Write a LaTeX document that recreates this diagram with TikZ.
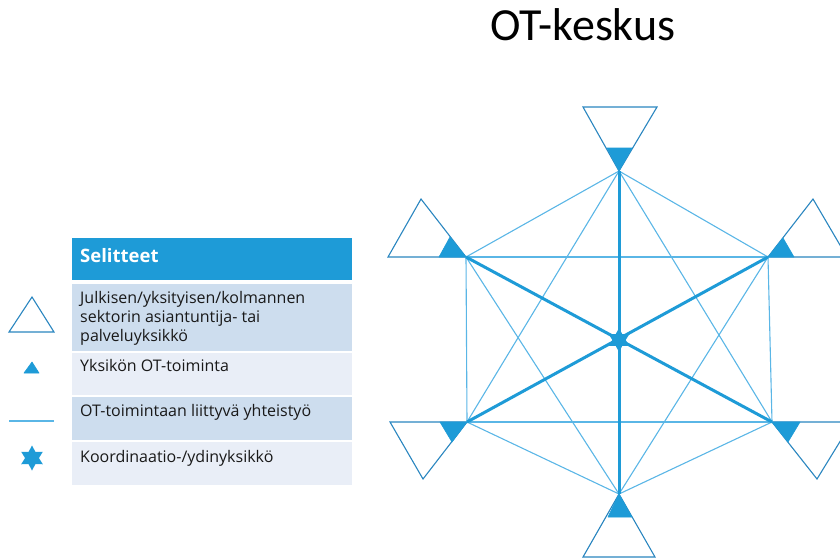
\documentclass[tikz,border=0pt]{standalone}
\usepackage{fontspec}
\setmainfont{Open Sans}
\newfontfamily\titlefont{Carlito}
\usetikzlibrary{shapes.geometric}
\definecolor{mainblue}{HTML}{1E9BD7}
\definecolor{thinblue}{HTML}{5AB6E6}
\definecolor{edgeblue}{HTML}{2A86C0}
\definecolor{rowA}{HTML}{CDDDEE}
\definecolor{rowB}{HTML}{E9EEF7}
\begin{document}
\begin{tikzpicture}[x=1pt,y=-1pt,
  thinline/.style={draw=thinblue,line width=1.1pt},
  thickline/.style={draw=mainblue,line width=3pt},
  outertri/.style={draw=edgeblue,line width=1.1pt,fill=white,line join=miter},
  innertri/.style={fill=mainblue,draw=mainblue,line width=0.6pt,line join=round},
  hexstar/.style={star,star points=6,star point ratio=1.8,fill=mainblue,inner sep=0pt,draw=none},
  legtext/.style={anchor=north west,inner sep=0pt,align=left,font=\fontsize{16}{19}\selectfont,text=black!90},
  rowa/.style={fill=rowA},
  rowb/.style={fill=rowB}]
\useasboundingbox (0,0) rectangle (840,558);

% title
\node[anchor=base,inner sep=0pt,font=\titlefont\fontsize{46}{50}\selectfont] (title) at (583,40) {OT-keskus};

% hub points
\coordinate (T) at (619,171);
\coordinate (UL) at (466,257);
\coordinate (UR) at (768,257);
\coordinate (LL) at (467,422);
\coordinate (LR) at (772,422);
\coordinate (B) at (619,494);
\coordinate (C) at (619,340);

% outer triangles
\draw[outertri] (583,107) -- (657,107) -- (T) -- cycle;
\draw[outertri] (388,257) -- (421,199) -- (UL) -- cycle;
\draw[outertri] (UR) -- (813,199) -- (847,257) -- cycle;
\draw[outertri] (390,422) -- (LL) -- (423,479) -- cycle;
\draw[outertri] (LR) -- (852,422) -- (817,479) -- cycle;
\draw[outertri] (583,557) -- (655,557) -- (B) -- cycle;

% thin cooperation lines
\draw[thinline] (T) -- (UL);
\draw[thinline] (T) -- (UR);
\draw[thinline] (T) -- (LL);
\draw[thinline] (T) -- (LR);
\draw[thinline] (B) -- (UL);
\draw[thinline] (B) -- (UR);
\draw[thinline] (B) -- (LL);
\draw[thinline] (B) -- (LR);
\draw[thinline] (UL) -- (UR);
\draw[thinline] (LL) -- (LR);
\draw[thinline] (UL) -- (LL);
\draw[thinline] (UR) -- (LR);

% thick lines
\draw[thickline] (T) -- (B);
\draw[thickline] (UL) -- (LR);
\draw[thickline] (UR) -- (LL);

% inner filled triangles
\fill[innertri] (607,148) -- (632,148) -- (T) -- cycle;
\fill[innertri] (439,257) -- (450,237) -- (UL) -- cycle;
\fill[innertri] (UR) -- (783,238) -- (794,257) -- cycle;
\fill[innertri] (440,422) -- (LL) -- (452,442) -- cycle;
\fill[innertri] (LR) -- (800,422) -- (788,442) -- cycle;
\fill[innertri] (608,517) -- (632,517) -- (B) -- cycle;

% core star
\node[hexstar,minimum size=24pt] (core) at (C) {};

% legend
\fill[mainblue] (72,238) rectangle (352,280);
\node[anchor=base west,inner sep=0pt,text=white,font=\bfseries\fontsize{18.5}{22}\selectfont] (leghead) at (80,262) {Selitteet};
\fill[rowa] (72,284) rectangle (352,351);
\fill[rowb] (72,353) rectangle (352,395);
\fill[rowa] (72,397) rectangle (352,440);
\fill[rowb] (72,442) rectangle (352,485);

\node[legtext] (t1) at (80,291) {Julkisen/yksityisen/kolmannen\\sektorin asiantuntija- tai\\palveluyksikkö};
\node[legtext] (t2) at (80,359) {Yksikön OT-toiminta};
\node[legtext] (t3) at (80,404) {OT-toimintaan liittyvä yhteistyö};
\node[legtext] (t4) at (80,450) {Koordinaatio-/ydinyksikkö};

% legend icons
\draw[outertri] (9,332) -- (54,332) -- (32,297) -- cycle;
\fill[innertri] (24,373) -- (39,373) -- (32,362) -- cycle;
\coordinate (la) at (9,421);
\coordinate (lb) at (54,421);
\draw[thinline] (la) -- (lb);
\node[hexstar,minimum size=25pt] (legstar) at (32,458) {};
\end{tikzpicture}
\end{document}
